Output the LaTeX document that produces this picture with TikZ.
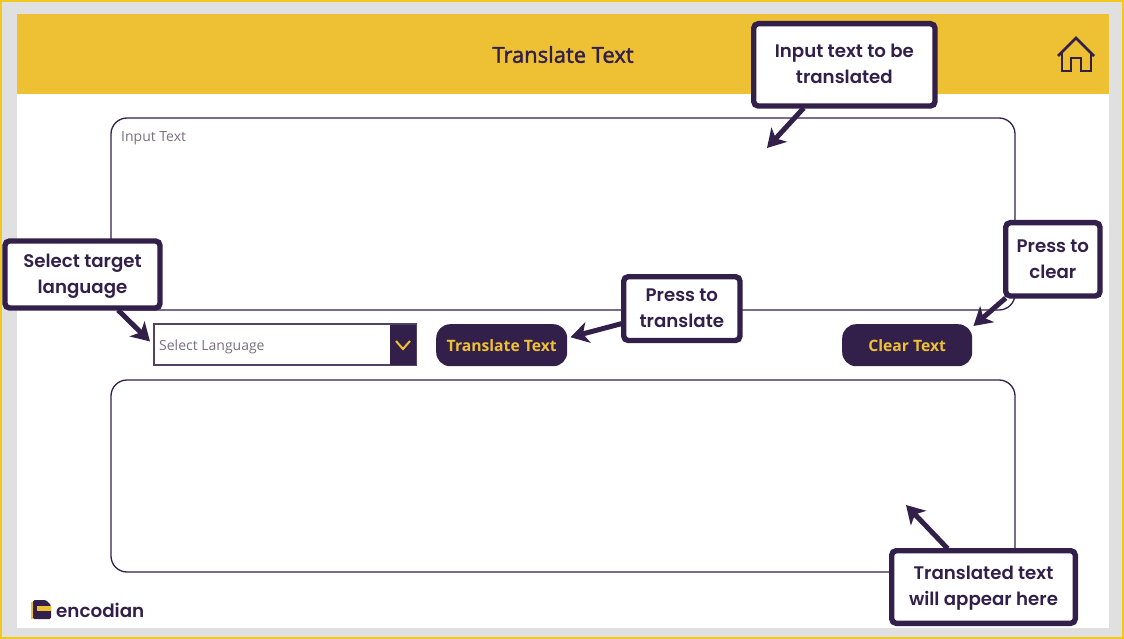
\documentclass[tikz,border=0pt]{standalone}
\usepackage{fontspec}
\setmainfont{Open Sans}
\newfontfamily\titlefont{Open Sans}[FakeBold=2]
\newfontfamily\callfont{Poppins}[FontFace={sb}{n}{Font=* SemiBold}]
\usetikzlibrary{arrows.meta,calc,positioning}
\definecolor{plum}{HTML}{32204A}
\definecolor{gold}{HTML}{EEC135}
\definecolor{edgegold}{HTML}{F2C81E}
\definecolor{panelgrey}{HTML}{E0E0E0}
\definecolor{hint}{HTML}{7A7080}
\tikzset{
  x=1pt,y=-1pt,
  box/.style={draw=plum,line width=1.3pt,rounded corners=16pt,fill=none},
  callout/.style={draw=plum,line width=5.4pt,fill=white,rounded corners=4.5pt,align=center,outer sep=0pt,
    font=\callfont\fontsize{18.2}{26}\selectfont\fontseries{sb}\selectfont,text=plum,inner sep=0pt,anchor=north west},
  pointer/.style={draw=plum,line width=5pt,-{Stealth[length=18pt,width=21pt,inset=5pt]}},
  btn/.style={fill=plum,rounded corners=14pt,text=gold,font=\fontsize{15.7}{20}\selectfont\bfseries,anchor=north west,inner sep=0pt,minimum height=42pt},
}
\begin{document}
\begin{tikzpicture}
\useasboundingbox (0,0) rectangle (1124,639);
\fill[panelgrey] (0,0) rectangle (1124,639);
\draw[edgegold,line width=2pt] (1,1) rectangle (1123,638);
\fill[white] (17,14) rectangle (1109,628);
\fill[gold] (17,14) rectangle (1109,94);
\node[text=plum,font=\titlefont\fontsize{22}{24}\selectfont] (title) at (563,54.5) {Translate Text};
% home icon
\draw[plum,line width=2.6pt,line join=miter] (1058,56) -- (1076,38) -- (1094,56);
\draw[plum,line width=2.6pt,line join=miter] (1062,52) -- (1062,71) -- (1071,71) -- (1071,58) -- (1081,58) -- (1081,71) -- (1091,71) -- (1091,52);
% text boxes
\draw[box] (111,118) rectangle (1015,310);
\node[anchor=west,text=hint,font=\fontsize{14}{16}\selectfont,inner sep=0pt] (inputhint) at (121,138) {Input Text};
\draw[box] (111,380) rectangle (1015,572);
\coordinate (intip) at (767,148);
\coordinate (outtip) at (906,505);
% dropdown
\node[draw=plum!85,line width=2pt,fill=white,anchor=north west,minimum width=262pt,minimum height=41pt,inner sep=0pt,outer sep=0pt] (dd) at (154,324) {};
\node[anchor=west,text=hint,font=\fontsize{14}{16}\selectfont,inner sep=0pt] (ddtext) at (159,347) {Select Language};
\fill[plum] (390,325) rectangle (416,365);
\draw[gold,line width=2pt] (396,341) -- (403,349) -- (410,341);
% buttons
\node[btn,minimum width=131pt] (trbtn) at (436,324) {Translate Text};
\node[btn,minimum width=130pt] (clrbtn) at (842,324) {Clear Text};
% logo
\fill[gold] (31,602) rectangle (35,619);
\fill[plum,rounded corners=1.5pt] (33,600) -- (46,600) -- (51,605) -- (51,619) -- (33,619) -- cycle;
\fill[gold] (37,606) rectangle (51,611);
\node[anchor=west,text=plum,inner sep=0pt,font=\callfont\fontsize{18.3}{24}\selectfont\fontseries{sb}\selectfont] (logo) at (56,610.5) {encodian};
% callouts
\node[callout,minimum width=181.3pt,minimum height=82.3pt] (incall) at (753.7,23.7) {Input text to be\\translated\rule[-2pt]{0pt}{0pt}};
\node[callout,minimum width=155pt,minimum height=67pt] (selcall) at (5,241) {\rule{0pt}{17pt}Select target\\language};
\node[callout,minimum width=116.3pt,minimum height=63.8pt] (trcall) at (623.7,276.7) {Press to\\translate};
\node[callout,minimum width=94.3pt,minimum height=73.3pt] (clrcall) at (1005.7,222.7) {Press to\\clear};
\node[callout,minimum width=183.6pt,minimum height=72.6pt] (outcall) at (891.7,550.7) {\rule{0pt}{15pt}Translated text\\will appear here};
% pointers
\draw[pointer] ($(incall.south west)+(50,2)$) -- (intip);
\draw[pointer] ($(selcall.south west)+(113,2)$) -- ($(dd.west)+(-4,-3)$);
\draw[pointer] ($(trcall.west)+(-2,15)$) -- ($(trbtn.east)+(3,-8)$);
\draw[pointer] ($(clrcall.south west)+(0,2)$) -- ($(clrbtn.north east)+(1,2)$);
\draw[pointer] ($(outcall.north west)+(56,-2)$) -- (outtip);
\end{tikzpicture}
\end{document}
